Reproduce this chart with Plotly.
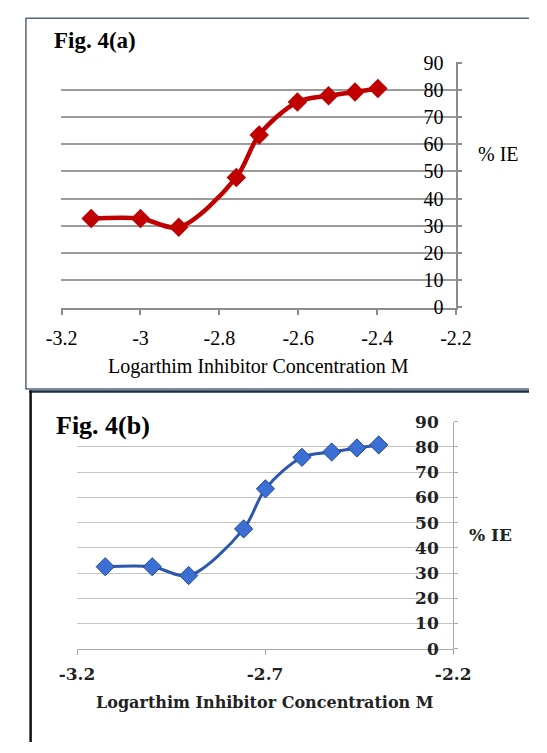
import plotly.graph_objects as go

# ---- data ----
log_conc = [-3.125, -3.0, -2.903, -2.757, -2.699, -2.602, -2.523, -2.456, -2.398]
ie_a = [32.7, 32.7, 29.5, 47.8, 63.4, 75.5, 77.8, 79.2, 80.5]
ie_b = [32.5, 32.5, 29.0, 47.5, 63.4, 75.9, 78.0, 79.6, 80.8]
x_ticks_a = [-3.2, -3.0, -2.8, -2.6, -2.4, -2.2]
x_ticklabels_a = ["-3.2", "-3", "-2.8", "-2.6", "-2.4", "-2.2"]
x_ticks_b = [-3.2, -2.7, -2.2]
x_ticklabels_b = ["-3.2", "-2.7", "-2.2"]
y_ticks = [0, 10, 20, 30, 40, 50, 60, 70, 80, 90]
x_range = [-3.2, -2.2]
y_range = [0, 90]
x_title = "Logarthim Inhibitor Concentration M"
y_title = "% IE"
title_a = "Fig. 4(a)"
title_b = "Fig. 4(b)"

W, H = 547, 753
EPS_X, EPS_Y = 0.0004, 0.04


def px(x):
    return x / W


def py(y):
    return 1 - y / H


fig = go.Figure()

fig.add_trace(go.Scatter(
    x=log_conc, y=ie_a, mode="lines+markers", xaxis="x", yaxis="y",
    line=dict(color="#C00000", width=4.5, shape="spline", smoothing=0.9),
    marker=dict(symbol="diamond", size=15, color="#C00000"),
    showlegend=False, cliponaxis=False,
))
fig.add_trace(go.Scatter(
    x=log_conc, y=ie_b, mode="lines+markers", xaxis="x2", yaxis="y2",
    line=dict(color="#2C58AE", width=3, shape="spline", smoothing=0.9),
    marker=dict(symbol="diamond", size=14, color="#3C6FD6",
                line=dict(color="#23468F", width=1)),
    showlegend=False, cliponaxis=False,
))

serif = "Liberation Serif, Times New Roman, serif"
serif_b = "DejaVu Serif, serif"

fig.update_layout(
    width=W, height=H,
    margin=dict(l=0, r=0, t=0, b=0),
    paper_bgcolor="white", plot_bgcolor="rgba(0,0,0,0)",
    xaxis=dict(
        domain=[px(46.5), px(469)], range=[x_range[0] - EPS_X, x_range[1] + EPS_X], anchor="y",
        tickmode="array", tickvals=x_ticks_a, ticktext=x_ticklabels_a,
        showgrid=False, zeroline=False,
        showline=True, linecolor="#8C8C8C", linewidth=1.5,
        ticks="outside", ticklen=6, tickcolor="#8C8C8C", tickwidth=1.5,
        tickfont=dict(family=serif, size=20, color="black"),
        ticklabelstandoff=6, ticklabeloverflow="allow",
    ),
    yaxis=dict(
        domain=[py(305.5), py(53)], range=[y_range[0] - EPS_Y, y_range[1] + EPS_Y],
        anchor="x", side="right",
        tickmode="array", tickvals=y_ticks,
        showgrid=True, gridcolor="#9C9C9C", gridwidth=1.5, zeroline=False,
        showline=True, linecolor="#8C8C8C", linewidth=1.5,
        ticks="outside", ticklen=4, tickcolor="#8C8C8C", tickwidth=1.5,
        ticklabelposition="inside", ticklabelstandoff=14, ticklabeloverflow="allow",
        tickfont=dict(family=serif, size=20, color="black"),
    ),
    xaxis2=dict(
        domain=[px(63), px(466)], range=[x_range[0] - EPS_X, x_range[1] + EPS_X], anchor="y2",
        tickmode="array", tickvals=x_ticks_b, ticktext=x_ticklabels_b,
        showgrid=False, zeroline=False,
        showline=True, linecolor="#A8A8A8", linewidth=1,
        ticks="outside", ticklen=5, tickcolor="#A8A8A8", tickwidth=1,
        tickfont=dict(family=serif_b, size=17, color="#222222", weight="bold"),
        ticklabelstandoff=5, ticklabeloverflow="allow",
    ),
    yaxis2=dict(
        domain=[py(657), py(423)], range=[y_range[0] - EPS_Y, y_range[1] + EPS_Y],
        anchor="x2", side="right",
        tickmode="array", tickvals=y_ticks,
        showgrid=True, gridcolor="#C4C4C4", gridwidth=1, zeroline=False,
        showline=True, linecolor="#A8A8A8", linewidth=1,
        ticks="outside", ticklen=4, tickcolor="#A8A8A8", tickwidth=1,
        ticklabelposition="inside", ticklabelstandoff=15, ticklabeloverflow="allow",
        tickfont=dict(family=serif_b, size=17, color="#222222", weight="bold"),
    ),
)

annotations = [
    dict(text=title_a, x=px(36), y=py(30), xanchor="left", yanchor="middle",
         font=dict(family=serif, size=23, color="black", weight="bold")),
    dict(text=y_title, x=px(514), y=py(147), xanchor="center", yanchor="middle",
         font=dict(family=serif, size=20, color="black")),
    dict(text=x_title, x=px(257), y=py(366), xanchor="center", yanchor="middle",
         font=dict(family=serif, size=20, color="black")),
    dict(text=title_b, x=px(40), y=py(427), xanchor="left", yanchor="middle",
         bgcolor="white", borderpad=0,
         font=dict(family=serif, size=26, color="black", weight="bold")),
    dict(text=y_title, x=px(506), y=py(540), xanchor="center", yanchor="middle",
         font=dict(family=serif_b, size=17, color="#222222", weight="bold")),
    dict(text=x_title, x=px(264), y=py(712), xanchor="center", yanchor="middle",
         font=dict(family=serif_b, size=16, color="#222222", weight="bold")),
]
for a in annotations:
    a.update(xref="paper", yref="paper", showarrow=False)
fig.update_layout(annotations=annotations)

shapes = [
    # panel (a) frame
    dict(type="line", x0=px(8.5), x1=px(8.5), y0=py(7.5), y1=py(389.5),
         line=dict(color="#56657E", width=1.5)),
    dict(type="line", x0=px(8), x1=1, y0=py(7.5), y1=py(7.5),
         line=dict(color="#56657E", width=1.5)),
    dict(type="line", x0=px(8), x1=1, y0=py(389.5), y1=py(389.5),
         line=dict(color="#56657E", width=1.5)),
    # panel (b) frame
    dict(type="line", x0=px(12), x1=1, y0=py(392), y1=py(392),
         line=dict(color="#1C2A44", width=2.5)),
    dict(type="line", x0=px(13.5), x1=px(13.5), y0=py(391), y1=0,
         line=dict(color="#111111", width=2.5)),
]
for s in shapes:
    s.update(xref="paper", yref="paper", layer="above")
fig.update_layout(shapes=shapes)

fig.write_html("out.html")
